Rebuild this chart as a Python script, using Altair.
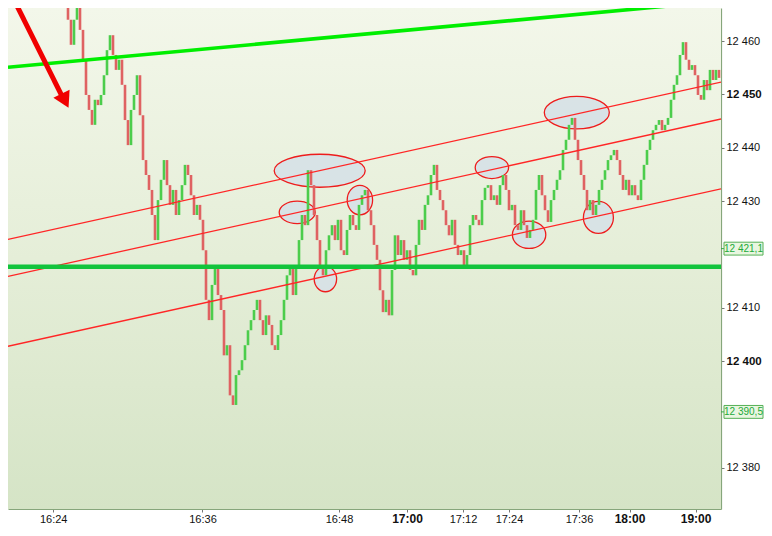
import json
import altair as alt
import pandas as pd

# ---------------- data ----------------
# close of every tick bar (bars are evenly spaced, index 0..217)
closes = [
    12464.0, 12459.3, 12464.0, 12467.7, 12462.1, 12456.5, 12449.9, 12447.1, 12444.3, 12449.0,
    12448.0, 12449.9, 12453.6, 12458.3, 12461.1, 12457.4, 12454.6, 12456.5, 12451.8, 12445.2,
    12440.5, 12447.1, 12449.9, 12453.6, 12446.1, 12437.7, 12434.9, 12432.1, 12427.4, 12422.7,
    12430.2, 12434.0, 12437.7, 12433.0, 12429.3, 12432.1, 12427.4, 12430.2, 12433.0, 12436.8,
    12434.9, 12431.1, 12427.4, 12429.3, 12426.5, 12420.8, 12411.5, 12407.7, 12414.3, 12417.5,
    12412.4, 12409.6, 12401.1, 12403.0, 12393.6, 12391.8, 12397.4, 12398.3, 12400.2, 12403.0,
    12405.8, 12407.7, 12409.6, 12411.5, 12407.7, 12404.9, 12408.6, 12406.8, 12403.0, 12402.1,
    12404.9, 12407.7, 12411.5, 12416.1, 12418.0, 12412.4, 12418.0, 12422.7, 12427.4, 12425.5,
    12435.8, 12433.0, 12427.4, 12422.7, 12418.0, 12416.1, 12420.8, 12423.6, 12425.5, 12422.7,
    12426.5, 12420.8, 12419.9, 12424.6, 12427.4, 12425.5, 12424.6, 12429.3, 12431.1, 12432.1,
    12428.3, 12425.5, 12421.8, 12419.0, 12413.3, 12409.2, 12411.5, 12408.6, 12417.1, 12423.6,
    12419.9, 12422.7, 12419.0, 12420.8, 12417.1, 12416.1, 12421.8, 12426.5, 12424.6, 12429.3,
    12431.1, 12434.9, 12436.8, 12432.1, 12430.2, 12428.3, 12425.5, 12423.6, 12426.5, 12421.8,
    12419.9, 12420.8, 12417.5, 12419.9, 12425.5, 12427.4, 12426.5, 12425.5, 12430.2, 12432.5,
    12433.0, 12430.2, 12431.1, 12429.3, 12433.0, 12434.9, 12432.1, 12428.3, 12429.3, 12425.5,
    12424.6, 12428.3, 12425.5, 12423.1, 12424.6, 12426.5, 12432.1, 12434.9, 12431.1, 12428.3,
    12426.1, 12430.2, 12432.1, 12434.0, 12435.8, 12439.6, 12441.5, 12444.3, 12445.6, 12441.5,
    12437.7, 12434.9, 12432.1, 12428.3, 12430.2, 12427.4, 12429.3, 12432.1, 12434.0, 12435.8,
    12437.7, 12438.6, 12439.6, 12437.7, 12434.9, 12432.1, 12434.0, 12431.1, 12433.0, 12431.1,
    12430.2, 12434.0, 12436.8, 12439.6, 12441.5, 12443.3, 12444.3, 12445.2, 12443.3, 12444.3,
    12445.6, 12449.0, 12451.8, 12453.6, 12457.4, 12459.8, 12456.5, 12454.6, 12455.5, 12453.6,
    12449.9, 12449.0, 12452.7, 12450.8, 12454.6, 12452.7, 12454.6, 12453.1,
]
first_open = 12470.5

# x axis (bar index positions of the time labels)
tick_pos = [-4.93, 44.83, 90.33, 113.0, 131.67, 147.0, 170.33, 187.17, 209.2]
tick_lab = ["16:24", "16:36", "16:48", "17:00", "17:12", "17:24", "17:36", "18:00", "19:00"]
tick_bold = [113.0, 187.17, 209.2]

# y axis
y_ticks = [12380, 12400, 12410, 12430, 12440, 12450, 12460]
y_bold = [12400, 12450]

# drawn lines: start/end (bar index, price)
line_name = ["chan_top", "chan_mid", "chan_low", "green_top", "green_flat"]
line_i0 = [-20, -20, -20, -20, -20]
line_p0 = [12422.85, 12415.9, 12402.8, 12455.1, 12417.7]
line_i1 = [217.67, 217.67, 217.67, 217.67, 217.67]
line_p1 = [12452.3, 12445.4, 12432.3, 12467.5, 12417.7]

# ellipses drawn on the chart: centre (bar index, price)
ell_i = [83.9, 76.4, 97.3, 85.8, 141.3, 169.6, 153.7, 176.8]
ell_p = [12435.7, 12427.9, 12430.2, 12415.4, 12436.3, 12446.6, 12423.7, 12426.95]

# arrow (bar index, price)
arrow_i0, arrow_p0 = -18.33, 12468.1
arrow_i1, arrow_p1 = -2.0, 12449.7
arrow_head_i, arrow_head_p = -1.0, 12448.8

# price boxes on the axis
box_vals = [12421.1, 12390.5]
box_text = ["12 421,1", "12 390,5"]

# ---------------- styling ----------------
ell_rx = [45.5, 18, 12.7, 11.2, 16.7, 32.5, 16.7, 15]
ell_ry = [16.5, 11.2, 14.7, 12.7, 11, 16.3, 13.7, 16]

W, H = 713, 501
xscale = alt.Scale(domain=[-20, 217.667], nice=False, zero=False)
yscale = alt.Scale(domain=[12372.3, 12466.2], nice=False, zero=False)


def ellipse_path(a):
    k = 0.5523
    return (f"M-1,0 C-1,{-k*a:.4f} {-k:.4f},{-a:.4f} 0,{-a:.4f} "
            f"C{k:.4f},{-a:.4f} 1,{-k*a:.4f} 1,0 "
            f"C1,{k*a:.4f} {k:.4f},{a:.4f} 0,{a:.4f} "
            f"C{-k:.4f},{a:.4f} -1,{k*a:.4f} -1,0 Z")


opens = [first_open] + closes[:-1]
bar_df = pd.DataFrame({"i": list(range(len(closes))), "p": opens, "p2": closes})
bar_df["dir"] = ["up" if c >= o else "down" for o, c in zip(opens, closes)]

line_df = pd.DataFrame({"name": line_name, "i": line_i0, "p": line_p0, "i2": line_i1, "p2": line_p1})

ell_df = pd.DataFrame({
    "i": ell_i, "p": ell_p,
    "shape": [ellipse_path(ry / rx) for rx, ry in zip(ell_rx, ell_ry)],
    "size": [(2 * rx) ** 2 for rx in ell_rx],
})

box_df = pd.DataFrame({"p": box_vals, "text": box_text})
one = pd.DataFrame({"a": [0]})

bold_x = f"indexof({json.dumps(tick_bold)}, datum.value) >= 0"
bold_y = f"indexof({json.dumps(y_bold)}, datum.value) >= 0"

xaxis = alt.Axis(
    values=tick_pos,
    labelExpr=f"{json.dumps(tick_lab)}[indexof({json.dumps(tick_pos)}, datum.value)]",
    title=None, grid=False, domainColor="#86a67b", domainWidth=1.2,
    tickColor="#777777", tickSize=3, labelPadding=1,
    labelFont="Liberation Sans", labelColor="#111111",
    labelFontWeight={"condition": {"test": bold_x, "value": "bold"}, "value": "normal"},
    labelFontSize={"condition": {"test": bold_x, "value": 12}, "value": 11},
    labelOverlap=False, labelFlush=False,
)
yaxis = alt.Axis(
    orient="right", values=y_ticks,
    labelExpr="replace(format(datum.value, ','), ',', ' ')",
    title=None, grid=False, domainColor="#86a67b", domainWidth=1.2,
    tickColor="#777777", tickSize=3, labelPadding=2,
    labelFont="Liberation Sans", labelColor="#111111",
    labelFontWeight={"condition": {"test": bold_y, "value": "bold"}, "value": "normal"},
    labelFontSize={"condition": {"test": bold_y, "value": 11.5}, "value": 11},
    labelOverlap=False, labelFlush=False,
)


def X(f="i"):
    return alt.X(f"{f}:Q", scale=xscale, axis=xaxis)


def Y(f="p"):
    return alt.Y(f"{f}:Q", scale=yscale, axis=yaxis)


bg = alt.Chart(one).mark_rect(
    color=alt.LinearGradient(
        gradient="linear", x1=0, y1=0, x2=0, y2=1,
        stops=[alt.GradientStop(color="#f3f7ea", offset=0),
               alt.GradientStop(color="#e5eed8", offset=0.5),
               alt.GradientStop(color="#d5e4c6", offset=1)],
    )
).encode(x=alt.value(0), x2=alt.value(W), y=alt.value(0), y2=alt.value(H))

ellipses = alt.Chart(ell_df).mark_point(
    filled=True, fill="#d7e1e6", fillOpacity=0.95, stroke="#ee1c1c", strokeWidth=1.3, opacity=1
).encode(
    x=X(), y=Y(),
    shape=alt.Shape("shape:N", scale=None, legend=None),
    size=alt.Size("size:Q", scale=None, legend=None),
)

bars = alt.Chart(bar_df).mark_rule(strokeWidth=2.6, clip=True).encode(
    x=X(), y=Y(), y2="p2:Q",
    color=alt.Color("dir:N", scale=alt.Scale(domain=["up", "down"], range=["#4ccd4c", "#df6262"]), legend=None),
)

red_lines = alt.Chart(line_df).transform_filter(
    "indexof(['chan_top','chan_mid','chan_low'], datum.name) >= 0"
).mark_rule(color="#ff2626", strokeWidth=1.3, clip=True).encode(x=X(), x2="i2:Q", y=Y(), y2="p2:Q")

green_top = alt.Chart(line_df).transform_filter("datum.name == 'green_top'").mark_rule(
    color="#00ee00", strokeWidth=3.6, clip=True
).encode(x=X(), x2="i2:Q", y=Y(), y2="p2:Q")

green_flat = alt.Chart(line_df).transform_filter("datum.name == 'green_flat'").mark_rule(
    color="#12c43c", strokeWidth=4.5, clip=True
).encode(x=X(), x2="i2:Q", y=Y(), y2="p2:Q")

arrow_df = pd.DataFrame({"i": [arrow_i0], "p": [arrow_p0], "i2": [arrow_i1], "p2": [arrow_p1]})
arrow_shaft = alt.Chart(arrow_df).mark_rule(color="#f00000", strokeWidth=5, clip=True).encode(
    x=X(), x2="i2:Q", y=Y(), y2="p2:Q")
head_df = pd.DataFrame({"i": [arrow_head_i], "p": [arrow_head_p]})
arrow_head = alt.Chart(head_df).mark_point(
    shape="triangle-up", filled=True, color="#f00000", size=330, angle=153.4, opacity=1
).encode(x=X(), y=Y())

box_tick = alt.Chart(box_df).mark_rule(color="#33aa44", strokeWidth=1).encode(
    x=alt.value(W), x2=alt.value(W + 3), y=Y())
box = alt.Chart(box_df).mark_point(
    shape="M-1,-0.33 L1,-0.33 L1,0.33 L-1,0.33 Z", filled=True, fill="#e9f6e0",
    stroke="#55b055", strokeWidth=1, size=39 * 39, opacity=1
).encode(x=alt.value(W + 22.5), y=Y())
box_txt = alt.Chart(box_df).mark_text(
    font="Liberation Sans", fontSize=10, color="#22aa3a", align="center", baseline="middle"
).encode(x=alt.value(W + 22.5), y=Y(), text="text:N")

chart = alt.layer(
    bg, ellipses, bars, red_lines, green_top, green_flat, arrow_shaft, arrow_head,
    box_tick, box, box_txt
).properties(
    width=W, height=H,
    autosize=alt.AutoSizeParams(type="none"),
    padding={"left": 0, "top": 0, "right": 43, "bottom": 15},
    background="#ffffff",
).configure_view(stroke=None)

chart.save("out.html", embed_options={"renderer": "svg", "actions": False})
